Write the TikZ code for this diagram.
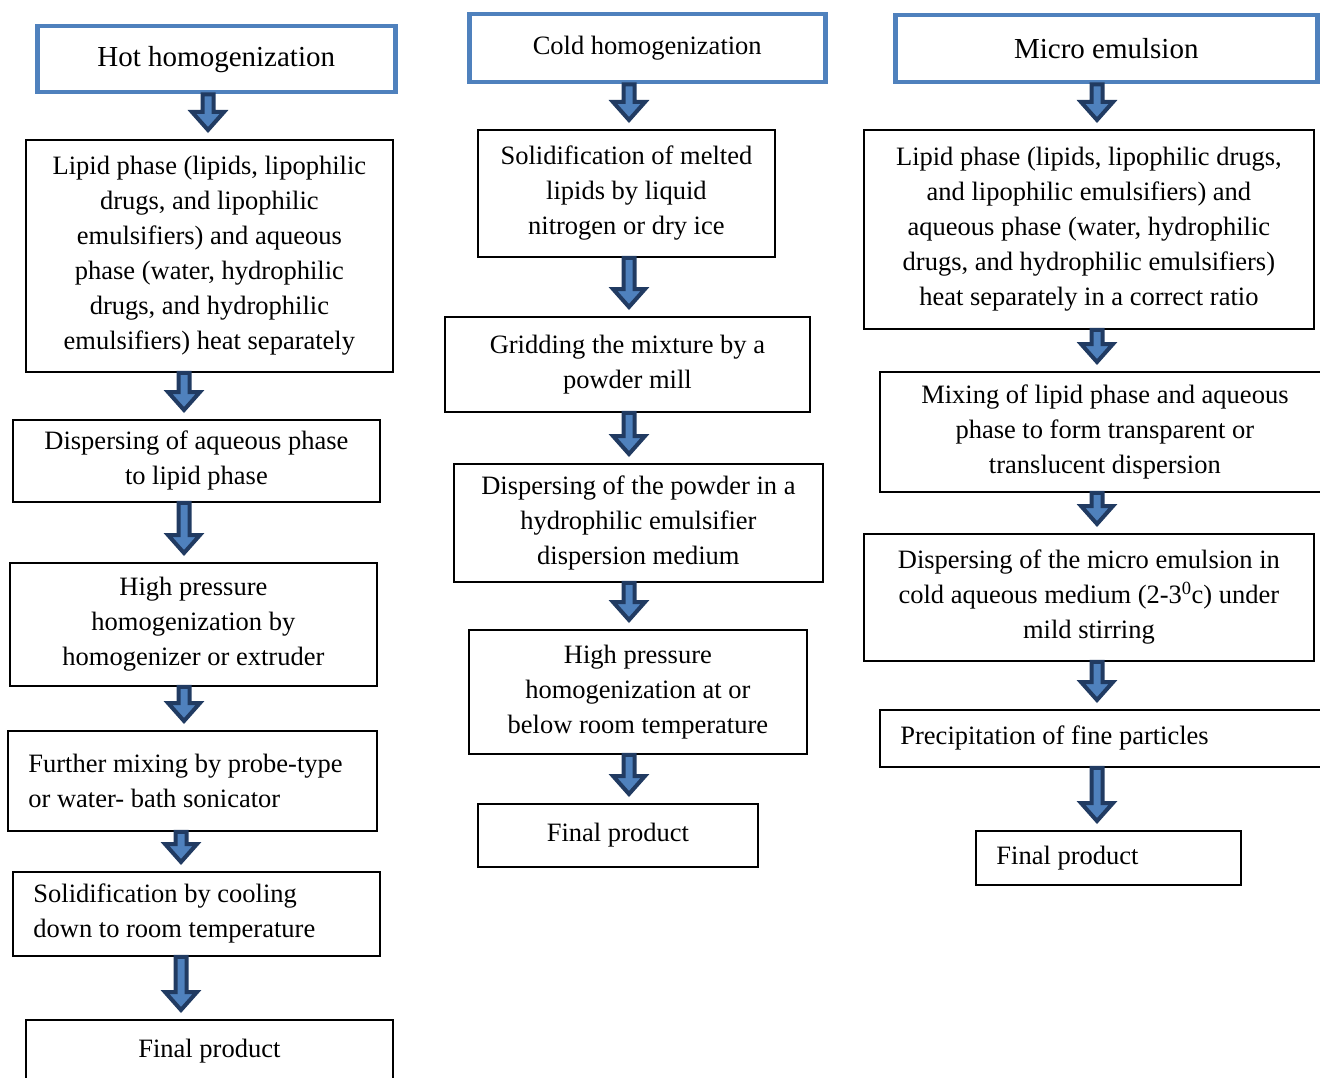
\documentclass[tikz,border=0pt]{standalone}
\usepackage{fontspec}
\setmainfont{Liberation Serif}
\usetikzlibrary{calc}

\definecolor{headblue}{HTML}{4F81BD}
\definecolor{arrownavy}{HTML}{213B62}

\newcommand\bodysize{\fontsize{26.5}{35}\selectfont}
\newcommand\headsize{\fontsize{29}{35}\selectfont}

% block arrow from box #1 down to box #2 at x = #3
\newcommand\flowstep[3]{%
  \coordinate (s) at (#3,0 |- #1.south);
  \coordinate (t) at (#3,0 |- #2.north);
  \draw[flowarrow] ($(s)+(-5.5,0)$) -- ($(s)+(5.5,0)$) -- ($(t)+(5.5,-27)$)
    -- ($(t)+(16,-27)$) -- ($(t)+(0,-9)$) -- ($(t)+(-16,-27)$)
    -- ($(t)+(-5.5,-27)$) -- cycle;}

\tikzset{
  header/.style={draw=headblue, line width=4.5pt, fill=white, anchor=north west,
    align=center, inner sep=6pt, font=\headsize},
  stage/.style={draw=black, line width=1.8pt, fill=white, anchor=north west,
    align=center, inner xsep=10pt, inner ysep=8pt, font=\bodysize},
  stageleft/.style={stage, align=flush left, inner xsep=20.5pt},
  flowarrow/.style={draw=arrownavy, fill=headblue, line width=4pt, line join=miter}
}

\begin{document}
\begin{tikzpicture}[x=1pt, y=-1pt]
  \useasboundingbox (0,0) rectangle (1320,1078);
  \clip (0,0) rectangle (1320,1078);

  % hot homogenization
  \node[header, minimum width=358, minimum height=66] (hot) at (35,24) {Hot homogenization};
  \node[stage, minimum width=367, minimum height=232] (hot1) at (25,139)
    {Lipid phase (lipids, lipophilic\\drugs, and lipophilic\\emulsifiers) and aqueous\\phase (water, hydrophilic\\drugs, and hydrophilic\\emulsifiers) heat separately};
  \node[stage, minimum width=367, minimum height=82] (hot2) at (12,419)
    {Dispersing of aqueous phase\\to lipid phase};
  \node[stage, minimum width=367, minimum height=123] (hot3) at (9,562)
    {High pressure\\homogenization by\\homogenizer or extruder};
  \node[stageleft, text width=328, minimum height=100] (hot4) at (7,730)
    {Further mixing by probe-type\\or water- bath sonicator};
  \node[stageleft, text width=326, minimum height=84] (hot5) at (12,871)
    {Solidification by cooling\\down to room temperature};
  \node[stage, minimum width=367, minimum height=62] (hot6) at (25,1019) {Final product};

  % cold homogenization
  \node[header, minimum width=356, minimum height=68, font=\bodysize] (cold) at (467,12) {Cold homogenization};
  \node[stage, minimum width=297, minimum height=127] (cold1) at (477,129)
    {Solidification of melted\\lipids by liquid\\nitrogen or dry ice};
  \node[stage, minimum width=365, minimum height=95] (cold2) at (444,316)
    {Gridding the mixture by a\\powder mill};
  \node[stage, minimum width=369, minimum height=118] (cold3) at (453,463)
    {Dispersing of the powder in a\\hydrophilic emulsifier\\dispersion medium};
  \node[stage, minimum width=338, minimum height=124] (cold4) at (468,629)
    {High pressure\\homogenization at or\\below room temperature};
  \node[stage, minimum width=280, minimum height=63] (cold5) at (477,803) {Final product};

  % micro emulsion
  \node[header, minimum width=422, minimum height=67] (micro) at (893,13) {Micro emulsion};
  \node[stage, minimum width=450, minimum height=199] (micro1) at (863,129)
    {Lipid phase (lipids, lipophilic drugs,\\and lipophilic emulsifiers) and\\aqueous phase (water, hydrophilic\\drugs, and hydrophilic emulsifiers)\\heat separately in a correct ratio};
  \node[stage, minimum width=450, minimum height=120] (micro2) at (879,371)
    {Mixing of lipid phase and aqueous\\phase to form transparent or\\translucent dispersion};
  \node[stage, minimum width=450, minimum height=127] (micro3) at (863,533)
    {Dispersing of the micro emulsion in\\cold aqueous medium (2-3\textsuperscript{0}c) under\\mild stirring};
  \node[stageleft, text width=409, minimum height=57] (micro4) at (879,709)
    {Precipitation of fine particles};
  \node[stageleft, text width=224, minimum height=54] (micro5) at (975,830)
    {Final product};

  \flowstep{hot}{hot1}{208}
  \flowstep{hot1}{hot2}{184}
  \flowstep{hot2}{hot3}{184}
  \flowstep{hot3}{hot4}{184}
  \flowstep{hot4}{hot5}{181}
  \flowstep{hot5}{hot6}{181}

  \flowstep{cold}{cold1}{629}
  \flowstep{cold1}{cold2}{629}
  \flowstep{cold2}{cold3}{629}
  \flowstep{cold3}{cold4}{629}
  \flowstep{cold4}{cold5}{629}

  \flowstep{micro}{micro1}{1097}
  \flowstep{micro1}{micro2}{1097}
  \flowstep{micro2}{micro3}{1097}
  \flowstep{micro3}{micro4}{1097}
  \flowstep{micro4}{micro5}{1097}
\end{tikzpicture}
\end{document}
